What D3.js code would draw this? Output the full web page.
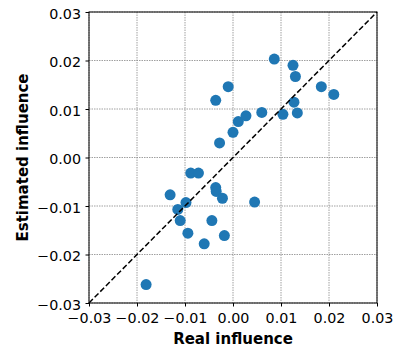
<!DOCTYPE html>
<html>
<head>
<meta charset="utf-8">
<script src="https://cdn.jsdelivr.net/npm/d3@7"></script>
<style>
  body { margin: 0; background: #fff; }
  svg { font-family: "DejaVu Sans", sans-serif; }
</style>
</head>
<body>
<div id="chart"></div>
<script>
// data
var realInfluence = [-0.0181, -0.0131, -0.0115, -0.0110, -0.0098, -0.0094, -0.0088, -0.0072,
  -0.0060, -0.0044, -0.0036, -0.0035, -0.0022, -0.0018, -0.0028, -0.0036, -0.0010, 0.0000,
  0.0011, 0.0027, 0.0045, 0.0060, 0.0086, 0.0104, 0.0125, 0.0130, 0.0127, 0.0134, 0.0184, 0.0210];
var estimatedInfluence = [-0.0262, -0.0077, -0.0107, -0.0130, -0.0093, -0.0156, -0.0032, -0.0032,
  -0.0178, -0.0130, -0.0062, -0.0070, -0.0084, -0.0161, 0.0030, 0.0118, 0.0146, 0.0052,
  0.0074, 0.0086, -0.0092, 0.0093, 0.0203, 0.0089, 0.0190, 0.0167, 0.0114, 0.0092, 0.0146, 0.0130];
var tickValues = [-0.03, -0.02, -0.01, 0.00, 0.01, 0.02, 0.03];

var svgWidth = 394;
var svgHeight = 347;
var margin = {top: 12, right: 17, bottom: 44, left: 89};
var width = svgWidth - margin.left - margin.right;   // 288
var height = svgHeight - margin.top - margin.bottom; // 291

var svg = d3.select("#chart")
  .append("svg")
  .attr("width", svgWidth)
  .attr("height", svgHeight);

var chartGroup = svg.append("g")
  .attr("transform", `translate(${margin.left}, ${margin.top})`);

var xScale = d3.scaleLinear().domain([-0.03, 0.03]).range([0, width]);
var yScale = d3.scaleLinear().domain([-0.03, 0.03]).range([height, 0]);

// grid
chartGroup.append("g")
  .selectAll("line")
  .data(tickValues)
  .enter()
  .append("line")
  .attr("x1", d => xScale(d)).attr("x2", d => xScale(d))
  .attr("y1", 0).attr("y2", height)
  .attr("stroke", "#888").attr("stroke-width", 0.8).attr("stroke-dasharray", "1.5,1");

chartGroup.append("g")
  .selectAll("line")
  .data(tickValues)
  .enter()
  .append("line")
  .attr("y1", d => yScale(d)).attr("y2", d => yScale(d))
  .attr("x1", 0).attr("x2", width)
  .attr("stroke", "#888").attr("stroke-width", 0.8).attr("stroke-dasharray", "1.5,1");

// points
var points = realInfluence.map((x, i) => ({x: x, y: estimatedInfluence[i]}));
chartGroup.selectAll("circle")
  .data(points)
  .enter()
  .append("circle")
  .attr("cx", d => xScale(d.x))
  .attr("cy", d => yScale(d.y))
  .attr("r", 5.5)
  .attr("fill", "#1f77b4");

// diagonal
chartGroup.append("line")
  .attr("x1", xScale(-0.03)).attr("y1", yScale(-0.03))
  .attr("x2", xScale(0.03)).attr("y2", yScale(0.03))
  .attr("stroke", "black").attr("stroke-width", 1.5).attr("stroke-dasharray", "5.5,2.5");

// frame
chartGroup.append("rect")
  .attr("width", width).attr("height", height)
  .attr("fill", "none").attr("stroke", "black").attr("stroke-width", 1);

// axes
var bottomAxis = d3.axisBottom(xScale).tickValues(tickValues).tickFormat(d3.format(".2f")).tickSizeOuter(0).tickSize(3.5).tickPadding(6);
var leftAxis = d3.axisLeft(yScale).tickValues(tickValues).tickFormat(d3.format(".2f")).tickSizeOuter(0).tickSize(3.5).tickPadding(4.5);

var xAxisG = chartGroup.append("g")
  .attr("transform", `translate(0, ${height})`)
  .call(bottomAxis);
var yAxisG = chartGroup.append("g")
  .call(leftAxis);

[xAxisG, yAxisG].forEach(function(g) {
  g.select(".domain").remove();
  g.selectAll("text").attr("font-size", "14.3px").attr("fill", "black").attr("font-family", "DejaVu Sans");
  g.selectAll(".tick line").attr("stroke", "black").attr("stroke-width", 1);
});
yAxisG.selectAll("text").attr("dy", "0.45em");

// axis labels
chartGroup.append("text")
  .attr("x", width / 2)
  .attr("y", height + 41)
  .attr("text-anchor", "middle")
  .attr("font-size", "15px")
  .attr("font-weight", "bold")
  .text("Real influence");

chartGroup.append("text")
  .attr("transform", "rotate(-90)")
  .attr("x", -height / 2)
  .attr("y", -61)
  .attr("text-anchor", "middle")
  .attr("font-size", "15px")
  .attr("font-weight", "bold")
  .text("Estimated influence");
</script>
</body>
</html>
